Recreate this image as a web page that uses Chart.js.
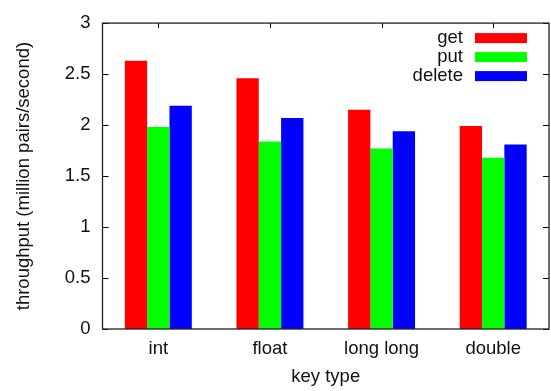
<!DOCTYPE html>
<html>
<head>
<meta charset="utf-8">
<script src="https://cdn.jsdelivr.net/npm/chart.js@4"></script>
<style>
    html, body { margin: 0; padding: 0; background: #fff; }
    #wrap { width: 551px; height: 391px; }
</style>
</head>
<body>
<div id="wrap"><canvas id="chart"></canvas></div>
<script>
const keyTypes = ['int', 'float', 'long long', 'double'];
const getVals = [2.63, 2.46, 2.15, 1.99];
const putVals = [1.98, 1.84, 1.77, 1.68];
const deleteVals = [2.19, 2.07, 1.94, 1.81];
const yTicks = [0, 0.5, 1, 1.5, 2, 2.5, 3];

const FONT = '"Liberation Sans", Arial, sans-serif';
const FS = 18.5;

// gnuplot style frame with inward ticks
const framePlugin = {
    id: 'frame',
    beforeDatasetsDraw(chart) {
        const { ctx, chartArea: a, scales } = chart;
        ctx.save();
        ctx.strokeStyle = '#000';
        ctx.lineWidth = 1;
        ctx.beginPath();
        yTicks.forEach(v => {
            const y = Math.round(scales.y.getPixelForValue(v)) + 0.5;
            ctx.moveTo(a.left, y); ctx.lineTo(a.left + 6, y);
            ctx.moveTo(a.right, y); ctx.lineTo(a.right - 6, y);
        });
        keyTypes.forEach((k, i) => {
            const x = Math.round(scales.x.getPixelForValue(i)) + 0.5;
            ctx.moveTo(x, a.top); ctx.lineTo(x, a.top + 5);
            ctx.moveTo(x, a.bottom); ctx.lineTo(x, a.bottom - 5);
        });
        ctx.stroke();
        ctx.restore();
    },
    afterDatasetsDraw(chart) {
        const { ctx, chartArea: a } = chart;
        ctx.save();
        ctx.strokeStyle = '#222';
        ctx.lineWidth = 1.3;
        ctx.strokeRect(a.left, a.top, a.right - a.left, a.bottom - a.top);
        ctx.restore();
    }
};

// legend inside, text right-aligned then colour box
const keyPlugin = {
    id: 'key',
    afterDraw(chart) {
        const { ctx, chartArea: a } = chart;
        ctx.save();
        ctx.font = FS + 'px ' + FONT;
        ctx.textAlign = 'right';
        ctx.textBaseline = 'middle';
        chart.data.datasets.forEach((ds, i) => {
            const cy = a.top + 15 + i * 19;
            ctx.fillStyle = '#111';
            ctx.fillText(ds.label, a.right - 86, cy);
            ctx.fillStyle = ds.backgroundColor;
            ctx.fillRect(a.right - 74, cy - 5, 52, 10);
        });
        ctx.restore();
    }
};

new Chart(document.getElementById('chart'), {
    type: 'bar',
    data: {
        labels: keyTypes,
        datasets: [
            { label: 'get', data: getVals, backgroundColor: '#ff0000' },
            { label: 'put', data: putVals, backgroundColor: '#00ff00' },
            { label: 'delete', data: deleteVals, backgroundColor: '#0000ff' }
        ]
    },
    options: {
        responsive: true,
        maintainAspectRatio: false,
        animation: false,
        layout: { padding: { top: 11, right: 2, left: 13, bottom: 0 } },
        datasets: { bar: { categoryPercentage: 0.6, barPercentage: 1.0, borderWidth: 0 } },
        scales: {
            x: {
                grid: { display: false, drawTicks: false },
                border: { display: false },
                ticks: { color: '#111', font: { family: FONT, size: FS }, padding: 9 },
                title: { display: true, text: 'key type', color: '#111', font: { family: FONT, size: FS }, padding: { top: 0, bottom: 3 } },
                afterFit(s) { s.height = 62; }
            },
            y: {
                min: 0,
                max: 3,
                grid: { display: false, drawTicks: false },
                border: { display: false },
                afterBuildTicks(s) { s.ticks = yTicks.map(v => ({ value: v })); },
                ticks: {
                    color: '#111',
                    font: { family: FONT, size: FS },
                    padding: 12,
                    callback: v => String(v)
                },
                title: { display: true, text: 'throughput (million pairs/second)', color: '#111', font: { family: FONT, size: FS }, padding: { top: 0, bottom: 4 } },
                afterFit(s) { s.width = 89.5; }
            }
        },
        plugins: {
            legend: { display: false },
            tooltip: { enabled: false }
        }
    },
    plugins: [framePlugin, keyPlugin]
});
</script>
</body>
</html>
